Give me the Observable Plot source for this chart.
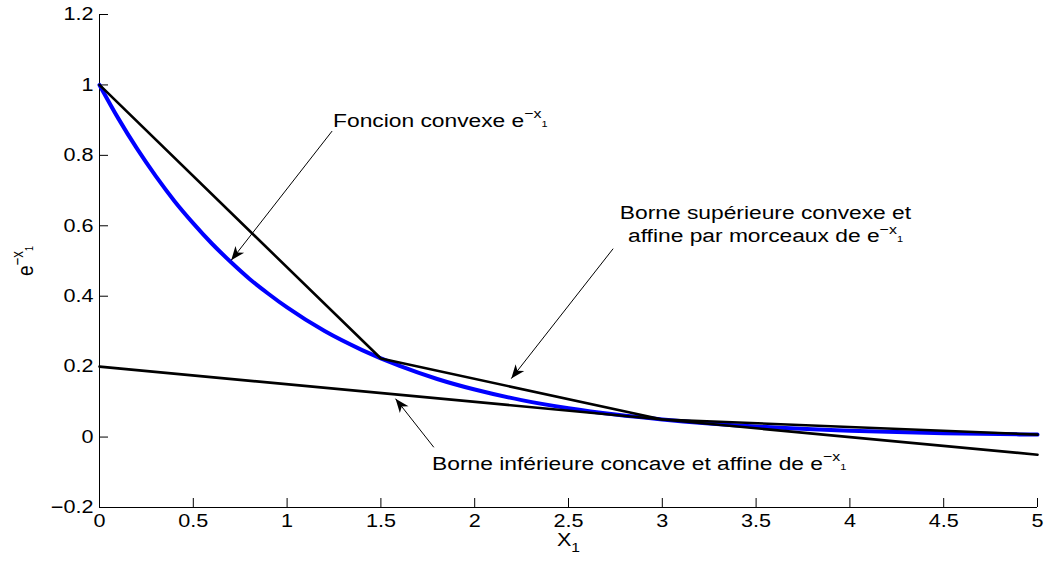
<!DOCTYPE html>
<html><head><meta charset="utf-8">
<script src="https://cdn.jsdelivr.net/npm/d3@7"></script>
<script src="https://cdn.jsdelivr.net/npm/@observablehq/plot@0.6"></script>
<style>html,body{margin:0;padding:0;background:#fff}</style>
</head><body><div id="chart"></div>
<script>
// ---- data ----
const xTicks = [0, 0.5, 1, 1.5, 2, 2.5, 3, 3.5, 4, 4.5, 5];
const xTickLabels = ["0", "0.5", "1", "1.5", "2", "2.5", "3", "3.5", "4", "4.5", "5"];
const yTicks = [-0.2, 0, 0.2, 0.4, 0.6, 0.8, 1, 1.2];
const yTickLabels = ["\u22120.2", "0", "0.2", "0.4", "0.6", "0.8", "1", "1.2"];

// blue convex curve
const curveX = [0, 0.1, 0.2, 0.3, 0.4, 0.5, 0.6, 0.7, 0.8, 0.9, 1.0, 1.2, 1.4, 1.6, 1.8, 2.0, 2.25, 2.5, 2.75, 3.0, 3.5, 4.0, 4.5, 5.0];
const curveY = [1, 0.905, 0.819, 0.741, 0.670, 0.607, 0.549, 0.497, 0.449, 0.407, 0.368, 0.301, 0.247, 0.202, 0.165, 0.135, 0.105, 0.082, 0.064, 0.050, 0.030, 0.018, 0.011, 0.007];

// piecewise affine upper bound
const upperX = [0, 1.5, 3, 5];
const upperY = [1, 0.223, 0.050, 0.007];

// affine lower bound
const lowerX = [0, 5];
const lowerY = [0.2, -0.05];

// annotation arrows (tail -> head)
const arrowTailX = [1.240, 2.738, 1.782];
const arrowTailY = [0.869, 0.535, -0.029];
const arrowHeadX = [0.702, 2.195, 1.578];
const arrowHeadY = [0.502, 0.166, 0.109];

// annotation labels
const labelText = [
  "Foncion convexe e^{\u2212x}_{1}",
  "Borne supérieure convexe et\naffine par morceaux de e^{\u2212x}_{1}",
  "Borne inférieure concave et affine de e^{\u2212x}_{1}"
];
const labelX = [1.245, 3.55, 1.773];
const labelY = [0.899, 0.607, -0.075];
const labelAnchor = ["start", "middle", "start"];

const xLabel = "X_{1}";
const yLabel = "e^{\u2212x}_{1}";

// ---- chart ----
const W = 1047, H = 561;
const mL = 99, mR = 10, mT = 14, mB = 54;
const frameW = W - mL - mR, frameH = H - mT - mB;
const FONT = "'Liberation Sans', Arial, Helvetica, sans-serif";
const STRETCH = 1.2;

const base = {
  width: W, height: H,
  marginLeft: mL, marginRight: mR, marginTop: mT, marginBottom: mB,
  x: {domain: [xTicks[0], xTicks[xTicks.length - 1]], axis: null},
  y: {domain: [yTicks[0], yTicks[yTicks.length - 1]], axis: null},
  style: {fontFamily: FONT, background: "#fff", color: "#000"}
};

// first pass to get pixel scales for arrowhead orientation
const probe = Plot.plot({...base, marks: [Plot.ruleX([0])]});
const sxo = probe.scale("x"), syo = probe.scale("y");
const sx = d3.scaleLinear(sxo.domain, sxo.range);
const sy = d3.scaleLinear(syo.domain, syo.range);
const arrowIdx = d3.range(arrowTailX.length);
const headAngle = arrowIdx.map(i => {
  const dx = sx(arrowHeadX[i]) - sx(arrowTailX[i]);
  const dy = sy(arrowHeadY[i]) - sy(arrowTailY[i]);
  return Math.atan2(dx, -dy) * 180 / Math.PI;
});

// filled "vback" arrowhead, tip at the origin pointing up
const vback = {
  draw(ctx) {
    ctx.moveTo(0, 0);
    ctx.lineTo(-5.5, 14);
    ctx.lineTo(0, 10);
    ctx.lineTo(5.5, 14);
    ctx.closePath();
  }
};

const cIdx = d3.range(curveX.length);
const uIdx = d3.range(upperX.length);
const lIdx = d3.range(lowerX.length);
const labIdx = d3.range(labelText.length);

const chart = Plot.plot({
  ...base,
  marks: [
    // axes lines (left & bottom only)
    Plot.ruleX([xTicks[0]], {stroke: "#000", strokeWidth: 1}),
    Plot.ruleY([yTicks[0]], {stroke: "#000", strokeWidth: 1}),
    // inward ticks
    Plot.ruleX(xTicks, {stroke: "#000", strokeWidth: 1, insetTop: frameH - 9}),
    Plot.ruleY(yTicks, {stroke: "#000", strokeWidth: 1, insetRight: frameW - 9}),
    // tick labels
    Plot.text(xTicks, {x: d => d, text: (d, i) => xTickLabels[i], frameAnchor: "bottom", lineAnchor: "top", dy: 7, fontSize: 18, fill: "#000"}),
    Plot.text(yTicks, {y: d => d, text: (d, i) => yTickLabels[i], frameAnchor: "left", textAnchor: "end", lineAnchor: "middle", dx: -6, fontSize: 18, fill: "#000"}),
    // series
    Plot.line(cIdx, {x: i => curveX[i], y: i => curveY[i], stroke: "#0000ff", strokeWidth: 4, curve: "monotone-x"}),
    Plot.line(uIdx, {x: i => upperX[i], y: i => upperY[i], stroke: "#000", strokeWidth: 2.6}),
    Plot.line(lIdx, {x: i => lowerX[i], y: i => lowerY[i], stroke: "#000", strokeWidth: 2.6}),
    // arrows
    Plot.link(arrowIdx, {x1: i => arrowTailX[i], y1: i => arrowTailY[i], x2: i => arrowHeadX[i], y2: i => arrowHeadY[i], stroke: "#000", strokeWidth: 1}),
    Plot.dot(arrowIdx, {x: i => arrowHeadX[i], y: i => arrowHeadY[i], symbol: vback, r: 5, fill: "#000", stroke: "none", rotate: i => headAngle[i]}),
    // annotation labels
    Plot.text(labIdx.filter(i => labelAnchor[i] === "start"), {x: i => labelX[i], y: i => labelY[i], text: i => labelText[i], textAnchor: "start", lineAnchor: "middle", fontSize: 19, fill: "#000"}),
    Plot.text(labIdx.filter(i => labelAnchor[i] === "middle"), {x: i => labelX[i], y: i => labelY[i], text: i => labelText[i], textAnchor: "middle", lineAnchor: "middle", fontSize: 19, lineHeight: 1.18, fill: "#000"}),
    // axis titles
    Plot.text([xLabel], {frameAnchor: "bottom", textAnchor: "middle", lineAnchor: "middle", dy: 33, fontSize: 18, fill: "#000"}),
    Plot.text([yLabel], {frameAnchor: "left", textAnchor: "middle", lineAnchor: "middle", dx: -74, rotate: -90, fontSize: 19, fill: "#000"})
  ]
});

document.getElementById("chart").appendChild(chart);

// rich text: ^{...} superscript, _{...} subscript
const NS = "http://www.w3.org/2000/svg";
function richify(svg) {
  const leaves = [...svg.querySelectorAll("text, tspan")].filter(el => el.children.length === 0 && /[\^_]\{/.test(el.textContent));
  for (const el of leaves) {
    const fs = parseFloat(getComputedStyle(el).fontSize) || 19;
    const s = el.textContent;
    el.textContent = "";
    const re = /([\^_])\{([^}]*)\}/g;
    let last = 0, m, prevSup = false;
    while ((m = re.exec(s))) {
      if (m.index > last) { el.appendChild(document.createTextNode(s.slice(last, m.index))); prevSup = false; }
      const t = document.createElementNS(NS, "tspan");
      t.textContent = m[2];
      if (m[1] === "^") {
        t.setAttribute("font-size", (fs * 0.7).toFixed(1));
        t.setAttribute("baseline-shift", (fs * 0.45).toFixed(1));
        prevSup = true;
      } else if (prevSup) {
        t.setAttribute("font-size", (fs * 0.48).toFixed(1));
        t.setAttribute("baseline-shift", (-fs * 0.02).toFixed(1));
        prevSup = false;
      } else {
        t.setAttribute("font-size", (fs * 0.72).toFixed(1));
        t.setAttribute("baseline-shift", (-fs * 0.3).toFixed(1));
      }
      el.appendChild(t);
      last = re.lastIndex;
    }
    if (last < s.length) el.appendChild(document.createTextNode(s.slice(last)));
  }
}
richify(chart);

// reference text is horizontally stretched; mimic that
for (const t of chart.querySelectorAll("text")) {
  const tr = t.getAttribute("transform");
  if (tr) {
    t.setAttribute("transform", tr + (/rotate/.test(tr) ? ` scale(1,${STRETCH})` : ` scale(${STRETCH},1)`));
  }
}
</script>
</body></html>
